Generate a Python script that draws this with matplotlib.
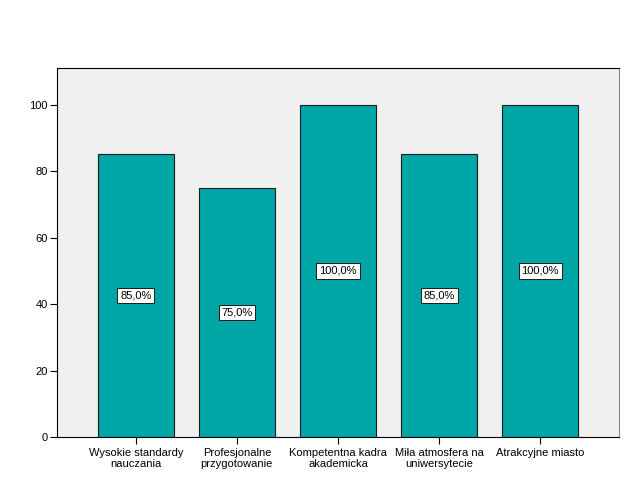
import matplotlib
matplotlib.use('Agg')
import matplotlib.pyplot as plt

categories = ['Wysokie standardy\nnauczania', 'Profesjonalne\nprzygotowanie',
              'Kompetentna kadra\nakademicka', 'Miła atmosfera na\nuniwersytecie',
              'Atrakcyjne miasto']
values = [85, 75, 100, 85, 100]
labels = ['85,0%', '75,0%', '100,0%', '85,0%', '100,0%']

plt.rcParams['font.family'] = ['Liberation Sans', 'DejaVu Sans']

fig = plt.figure(figsize=(6.26, 5.01), dpi=100)
ax = fig.add_axes([57 / 626, 1 - 437 / 501, (619 - 57) / 626, (437 - 68) / 501])
ax.set_facecolor('#f0f0f0')

x = list(range(len(values)))
ax.bar(x, values, width=0.75, color='#00a6a6', edgecolor='#1a1a1a', linewidth=0.8)

for i in x:
    ax.text(i, values[i] / 2, labels[i], ha='center', va='center', fontsize=8,
            bbox=dict(boxstyle='square,pad=0.25', facecolor='white', edgecolor='#1a1a1a', linewidth=0.7))

ax.set_xlim(-0.78, 4.78)
ax.set_ylim(0, 111)
ax.set_yticks([0, 20, 40, 60, 80, 100])
ax.set_xticks(x)
ax.set_xticklabels(categories, fontsize=8, linespacing=1.1)
ax.tick_params(axis='y', labelsize=8, length=5, width=0.8, pad=1.5)
ax.tick_params(axis='x', length=5, width=0.8, pad=3)

for side in ['left', 'bottom', 'top']:
    ax.spines[side].set_color('black')
    ax.spines[side].set_linewidth(0.8)
ax.spines['right'].set_color('#888888')

fig.savefig('out.png', dpi=100)
